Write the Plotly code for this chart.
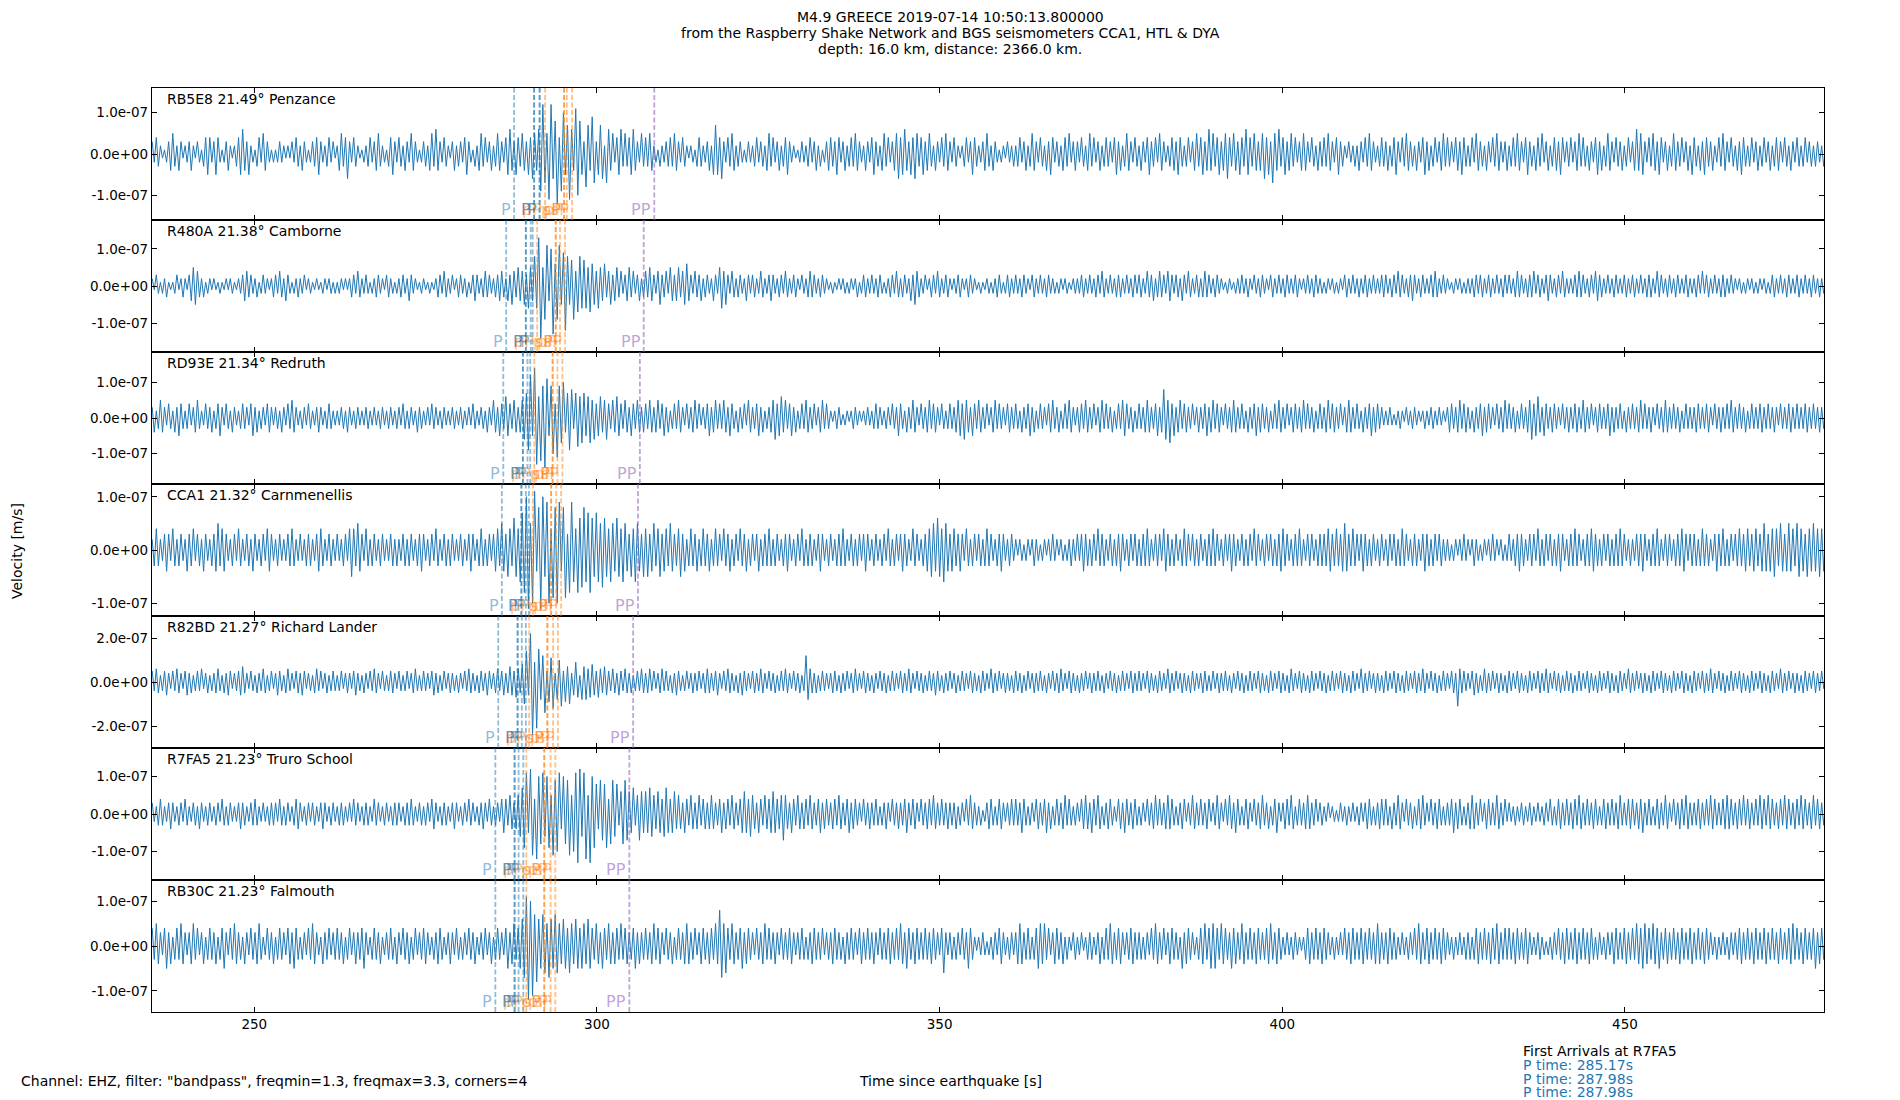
import numpy as np
import plotly.graph_objects as go
from plotly.subplots import make_subplots

# sample times: first sample and step (s since origin)
T0 = 235.1
DT = 0.3
X_RANGE = [235.07, 479.04]
X_TICKS = [250, 300, 350, 400, 450]

stations = ["RB5E8 21.49° Penzance", "R480A 21.38° Camborne", "RD93E 21.34° Redruth",
            "CCA1 21.32° Carnmenellis", "R82BD 21.27° Richard Lander", "R7FA5 21.23° Truro School",
            "RB30C 21.23° Falmouth"]

# y limits in 1e-7 m/s, ticks in 1e-7 m/s
y_limits = [1.60, 1.78, 1.85, 1.24, 3.0, 1.76, 1.47]
y_ticks = [[-1, 0, 1], [-1, 0, 1], [-1, 0, 1], [-1, 0, 1], [-2, 0, 2], [-1, 0, 1], [-1, 0, 1]]

# EHZ velocity, units of 1e-8 m/s, one row = 9 s
rb5e8 = [
    3,-2,4,-3,2,-1,1,-2,3,-4, 5,-3,2,-4,3,-1,2,-2,3,-4, 2,-1,3,-2,1,-3,4,-5,4,-2,
    3,-5,4,-2,1,-2,3,-4,2,-1, 2,-3,4,-5,6,-4,3,-5,2,-2, 1,-3,4,-2,5,-4,3,-2,1,-2,
    1,-2,3,-2,2,-1,2,-1,3,-2, 4,-3,2,-4,3,-2,1,-2,3,-3, 4,-5,3,-2,2,-3,4,-2,3,-1,
    2,-4,5,-3,4,-6,3,-2,4,-3, 2,-1,1,-2,2,-3,4,-2,3,-4, 5,-3,2,-2,1,-3,4,-5,3,-2,
    4,-3,2,-4,3,-2,5,-4,3,-2, 1,-2,3,-3,2,-4,5,-3,6,-4, 3,-2,4,-3,2,-1,3,-4,2,-3,
    3,-2,4,-5,3,-2,1,-3,2,-4, 5,-3,4,-2,3,-4,2,-3,5,-4, 3,-2,4,-5,6,-4,3,-5,4,-3,
    5,-4,3,-5,4,-6,5,-4,6,-9, 12,-7,5,-11,12,-6,8,-12,4,-9, 10,-5,7,-11,6,-4,11,-10,8,-5,
    3,-8,7,-4,9,-7,3,-5,7,-6, 2,-7,6,-4,5,-2,4,-5,6,-3, 5,-3,4,-5,6,-4,3,-2,5,-3,
    4,-3,5,-4,2,-2,1,-3,2,-2, 3,-3,4,-3,5,-4,3,-2,4,-3, 2,-1,2,-2,1,-3,4,-3,2,-2,
    3,-4,2,-5,7,-5,4,-6,3,-2, 4,-3,5,-4,2,-3,3,-2,1,-2, 3,-2,2,-3,4,-2,3,-3,2,-4,
    5,-3,4,-2,3,-4,2,-3,4,-5, 3,-2,2,-1,1,-2,3,-2,2,-3, 4,-2,3,-4,2,-3,1,-2,3,-4,
    4,-3,3,-5,4,-2,3,-4,2,-3, 4,-3,5,-4,3,-2,2,-4,3,-2, 4,-5,3,-3,2,-4,5,-3,4,-2,
    3,-4,5,-6,4,-5,6,-4,3,-5, 4,-6,5,-3,4,-5,3,-4,5,-3, 2,-4,3,-2,4,-3,5,-4,3,-2,
    4,-3,2,-1,2,-3,4,-2,3,-5, 4,-3,2,-2,3,-4,5,-3,2,-4, 3,-2,1,-2,2,-1,3,-2,2,-3,
    2,-3,4,-2,3,-4,2,-3,5,-4, 3,-2,4,-3,2,-4,3,-5,4,-2, 3,-3,2,-4,4,-3,5,-2,3,-4,
    3,-2,4,-3,2,-4,5,-3,4,-2, 3,-4,2,-3,4,-3,3,-2,4,-5, 3,-4,2,-3,5,-4,3,-2,4,-3,
    2,-4,3,-2,4,-5,3,-3,4,-2, 5,-4,3,-2,2,-3,4,-4,3,-5, 4,-3,2,-3,4,-2,3,-4,5,-3,
    4,-5,3,-4,6,-4,5,-3,4,-5, 3,-4,5,-6,4,-3,5,-4,3,-5, 4,-3,6,-5,4,-3,5,-4,3,-4,
    5,-6,4,-5,3,-7,5,-4,6,-3, 4,-5,3,-4,5,-3,4,-2,3,-4, 5,-4,3,-2,4,-3,2,-4,3,-3,
    4,-3,5,-4,3,-2,4,-5,3,-3, 2,-1,3,-2,2,-3,2,-4,3,-2, 4,-3,5,-4,3,-2,2,-3,4,-3,
    3,-4,2,-3,4,-5,3,-2,4,-3, 5,-4,3,-3,2,-4,3,-2,4,-5, 3,-4,2,-3,4,-2,3,-4,5,-3,
    4,-3,3,-2,4,-4,3,-5,4,-3, 2,-3,4,-2,5,-4,3,-3,2,-4, 3,-2,4,-3,5,-4,3,-2,3,-4,
    2,-3,4,-3,5,-4,3,-2,4,-5, 3,-3,2,-4,4,-3,5,-2,3,-4, 2,-3,4,-4,3,-5,4,-2,3,-3,
    4,-2,3,-4,5,-3,4,-3,2,-4, 3,-2,4,-5,3,-4,2,-3,5,-4, 3,-2,4,-3,3,-4,2,-3,4,-2,
    3,-4,6,-4,5,-5,3,-2,4,-3, 5,-4,3,-5,4,-2,3,-4,2,-3, 5,-4,3,-3,4,-2,3,-4,2,-5,
    4,-3,2,-4,3,-5,4,-3,3,-4, 2,-2,4,-3,5,-4,3,-2,4,-3, 2,-4,3,-5,4,-3,2,-3,4,-2,
    3,-4,2,-3,4,-2,3,-4,2,-3, 4,-4,3,-2,4,-3,2,-4,3,-2, 4,-3,2,-3,4,-2,3,-3,2,-3,
    3,-2,2,-3,2,
]

r480a = [
    2,-1,3,-2,1,-2,2,-3,1,-1, 1,-2,3,-1,2,-3,2,-1,3,-4, 5,-5,4,-3,2,-3,1,-2,2,-1,
    2,-1,1,-2,1,-1,2,-1,2,-2, 1,-1,2,-2,3,-4,4,-3,3,-2, 2,-3,1,-2,3,-2,2,-1,2,-3,
    3,-2,4,-3,2,-4,3,-2,1,-2, 2,-3,2,-2,3,-1,2,-2,1,-1, 2,-1,1,-2,2,-1,2,-2,1,-2,
    1,-2,2,-1,2,-1,2,-3,3,-2, 4,-3,2,-2,3,-2,1,-2,2,-3, 3,-2,2,-1,3,-3,2,-2,1,-2,
    2,-3,3,-2,2,-4,3,-2,2,-1, 1,-2,2,-1,1,-2,1,-1,2,-3, 3,-2,4,-3,2,-2,3,-1,2,-3,
    3,-2,2,-3,1,-2,3,-4,3,-2, 2,-3,4,-3,3,-2,2,-3,3,-4, 4,-3,2,-4,3,-5,4,-3,5,-4,
    4,-5,3,-6,5,-4,8,-6,13,-14, 5,-9,11,-4,10,-13,6,-9,11,-5, 9,-12,8,-5,7,-9,4,-7,8,-6,
    7,-6,5,-7,6,-5,4,-6,5,-4, 6,-3,4,-5,3,-4,5,-3,4,-2, 3,-4,5,-3,4,-2,3,-4,2,-3,
    4,-3,5,-4,3,-2,4,-5,3,-3, 4,-2,5,-4,3,-4,5,-3,4,-5, 6,-4,3,-2,4,-3,3,-4,2,-3,
    3,-2,2,-4,3,-2,5,-6,4,-5, 3,-2,4,-3,2,-3,3,-2,2,-4, 3,-2,3,-3,2,-2,4,-3,2,-2,
    3,-4,3,-2,2,-3,3,-2,4,-3, 2,-2,3,-3,2,-1,3,-2,2,-3, 4,-3,3,-2,2,-3,3,-2,2,-1,
    1,-2,1,-1,2,-1,2,-2,1,-2, 2,-1,2,-3,1,-2,3,-3,2,-2, 3,-2,2,-3,3,-2,1,-2,2,-3,
    3,-2,4,-3,2,-3,3,-2,2,-4, 3,-5,4,-3,2,-2,3,-1,2,-3, 3,-2,4,-3,2,-2,3,-3,2,-1,
    2,-2,3,-3,2,-1,2,-3,3,-2, 2,-1,1,-2,1,-1,2,-2,1,-2, 2,-3,3,-2,1,-2,3,-3,2,-2,
    3,-2,2,-3,3,-2,2,-1,3,-3, 2,-2,3,-2,2,-3,3,-2,2,-2, 1,-2,2,-1,2,-2,1,-1,2,-2,
    2,-2,3,-3,2,-2,3,-2,2,-3, 3,-2,4,-3,2,-2,3,-2,2,-3, 3,-3,2,-2,3,-2,2,-3,3,-2,
    3,-3,2,-2,4,-3,3,-4,2,-3, 4,-3,3,-2,4,-4,3,-2,3,-3, 2,-4,3,-2,4,-3,2,-2,3,-3,
    2,-3,4,-3,3,-2,2,-3,3,-2, 2,-1,1,-2,2,-1,1,-2,2,-2, 3,-2,2,-3,2,-1,3,-2,2,-3,
    3,-2,2,-1,3,-3,2,-2,3,-2, 2,-3,3,-2,2,-2,3,-3,2,-1, 2,-2,3,-2,2,-3,3,-2,2,-2,
    1,-2,2,-1,2,-2,1,-2,2,-1, 3,-3,2,-2,3,-2,2,-3,2,-2, 3,-3,2,-2,3,-2,2,-2,3,-3,
    3,-2,2,-3,3,-2,4,-3,3,-2, 2,-3,3,-4,3,-2,2,-3,3,-2, 2,-2,3,-3,4,-3,2,-2,3,-2,
    2,-1,1,-2,2,-1,2,-2,1,-2, 2,-2,2,-3,3,-2,3,-3,2,-2, 3,-3,2,-2,3,-2,2,-3,3,-2,
    3,-2,2,-3,4,-3,3,-2,2,-3, 3,-3,4,-2,3,-3,2,-2,3,-4, 3,-2,2,-3,3,-2,4,-3,2,-2,
    2,-2,3,-3,4,-3,3,-2,2,-3, 3,-2,4,-4,3,-3,2,-2,3,-2, 2,-3,3,-2,2,-2,3,-3,2,-2,
    3,-3,2,-2,3,-2,2,-3,3,-3, 2,-2,4,-3,3,-2,2,-3,3,-2, 2,-3,3,-2,2,-2,3,-3,2,-2,
    2,-3,3,-2,4,-2,3,-3,2,-2, 3,-2,2,-3,3,-3,2,-2,3,-2, 2,-1,2,-2,1,-2,2,-1,2,-2,
    1,-2,2,-1,2,-2,1,-2,3,-3, 2,-2,3,-2,2,-3,3,-2,2,-2, 3,-3,2,-2,3,-2,2,-3,3,-2,
    2,-3,2,-2,3,
]

rd93e = [
    3,-4,2,-3,5,-4,3,-2,4,-3, 2,-4,3,-5,4,-3,2,-3,4,-2, 3,-4,5,-3,2,-2,4,-3,3,-4,
    2,-3,4,-5,3,-2,4,-3,2,-4, 3,-2,2,-3,4,-3,3,-2,4,-5, 3,-4,2,-3,3,-2,4,-4,3,-2,
    3,-3,2,-4,3,-2,4,-3,5,-4, 3,-2,2,-3,3,-2,4,-3,2,-2, 3,-4,3,-2,2,-3,4,-3,2,-2,
    2,-2,3,-3,2,-4,3,-2,2,-3, 3,-2,2,-2,3,-3,2,-2,3,-2, 2,-3,3,-2,2,-3,3,-2,2,-3,
    3,-2,4,-3,2,-3,3,-2,2,-4, 3,-3,2,-2,3,-2,4,-3,3,-2, 2,-3,3,-2,2,-2,3,-3,2,-2,
    3,-3,2,-2,3,-2,4,-3,2,-2, 3,-3,2,-4,3,-2,5,-4,3,-5, 4,-3,6,-5,4,-3,5,-4,3,-4,
    5,-6,7,-9,12,-5,14,-13,6,-12, 9,-14,11,-5,9,-10,4,-11,9,-7, 10,-4,7,-9,8,-3,7,-8,6,-7,
    7,-5,6,-7,5,-6,4,-5,6,-4, 5,-6,4,-3,5,-4,6,-5,4,-3, 5,-4,3,-5,4,-3,5,-4,3,-4,
    4,-3,5,-4,3,-4,5,-3,4,-5, 3,-4,2,-3,4,-3,5,-4,3,-2, 4,-3,3,-4,5,-3,4,-2,3,-3,
    4,-5,3,-4,5,-3,4,-3,5,-4, 3,-5,4,-3,2,-4,3,-3,4,-2, 5,-4,3,-3,4,-5,3,-4,2,-3,
    3,-4,5,-6,4,-5,6,-4,5,-3, 4,-5,3,-4,2,-3,4,-3,5,-4, 3,-3,4,-2,3,-4,5,-3,4,-3,
    2,-1,2,-3,3,-2,1,-2,2,-1, 2,-3,3,-2,2,-1,2,-2,3,-2, 2,-3,4,-3,3,-2,2,-3,3,-2,
    4,-3,3,-5,4,-3,2,-4,3,-3, 5,-4,3,-2,4,-3,3,-4,5,-3, 4,-4,3,-2,4,-3,2,-3,4,-3,
    3,-4,5,-5,4,-6,5,-4,3,-5, 4,-3,5,-4,3,-3,4,-2,3,-4, 5,-3,4,-3,3,-2,4,-4,3,-3,
    4,-3,2,-4,3,-3,4,-5,3,-4, 2,-3,4,-3,3,-2,4,-4,5,-3, 3,-4,2,-3,4,-3,5,-4,3,-2,
    3,-4,4,-3,5,-4,3,-3,4,-2, 3,-4,5,-3,4,-3,3,-4,2,-3, 4,-3,5,-5,4,-3,3,-4,2,-3,
    4,-3,3,-4,5,-4,3,-3,4,-5, 3,-4,8,-6,5,-7,4,-5,3,-4, 5,-3,4,-4,3,-3,4,-2,3,-4,
    3,-3,4,-5,3,-4,5,-3,4,-4, 3,-2,4,-3,3,-4,5,-4,3,-3, 4,-3,2,-4,3,-3,4,-5,3,-4,
    4,-3,3,-4,2,-3,4,-3,5,-4, 3,-3,4,-2,3,-4,4,-3,3,-4, 5,-3,4,-3,3,-4,2,-3,4,-3,
    3,-4,5,-3,4,-4,3,-3,4,-2, 3,-4,5,-4,3,-3,4,-3,2,-4, 3,-3,4,-5,3,-4,4,-3,3,-2,
    2,-2,3,-2,1,-2,2,-3,2,-1, 3,-2,2,-3,3,-2,2,-1,2,-3, 2,-2,3,-3,2,-2,3,-2,2,-1,
    3,-4,4,-3,3,-4,5,-3,4,-4, 3,-3,2,-4,3,-3,4,-5,3,-4, 4,-3,3,-2,4,-3,3,-4,5,-3,
    4,-3,3,-4,2,-3,4,-3,3,-4, 5,-6,4,-5,6,-4,3,-5,4,-3, 3,-4,4,-3,3,-2,4,-3,3,-4,
    3,-3,4,-4,3,-3,5,-4,3,-3, 4,-2,3,-4,4,-3,3,-3,4,-5, 3,-4,3,-3,4,-3,2,-4,3,-3,
    4,-3,3,-4,5,-3,4,-3,3,-4, 3,-2,4,-3,3,-4,5,-4,3,-3, 4,-3,3,-4,2,-3,4,-3,3,-3,
    3,-4,4,-3,3,-3,4,-4,3,-2, 4,-3,3,-4,3,-3,4,-3,5,-4, 3,-3,4,-3,3,-4,2,-3,4,-3,
    3,-3,4,-4,3,-3,4,-3,3,-4, 3,-2,4,-3,3,-3,4,-4,3,-3, 4,-3,3,-3,4,-4,3,-3,4,-3,
    3,-4,3,-3,4,
]

cca1 = [
    2,-3,4,-3,2,-2,3,-4,3,-2, 4,-3,2,-3,3,-2,2,-4,3,-3, 4,-2,3,-3,2,-4,3,-2,2,-3,
    3,-4,5,-3,4,-4,3,-2,2,-3, 3,-2,4,-3,2,-2,3,-3,2,-4, 3,-2,2,-3,3,-2,4,-4,3,-2,
    2,-3,3,-2,2,-2,3,-3,4,-3, 2,-2,3,-2,2,-3,3,-3,2,-2, 3,-4,4,-3,2,-2,3,-3,2,-2,
    3,-2,2,-3,3,-2,4,-5,4,-3, 5,-4,3,-2,4,-3,2,-3,3,-2, 2,-3,3,-2,2,-2,3,-3,2,-3,
    2,-2,3,-3,2,-3,3,-2,2,-3, 3,-4,3,-2,2,-3,3,-2,4,-3, 2,-2,3,-3,2,-3,3,-2,2,-2,
    3,-3,2,-2,3,-4,3,-2,2,-3, 4,-3,2,-3,3,-2,3,-4,4,-3, 5,-4,3,-5,4,-3,6,-5,4,-6,
    7,-8,10,-11,5,-10,11,-4,8,-11, 10,-5,9,-10,4,-9,8,-10,9,-4, 8,-9,3,-8,9,-6,4,-8,6,-7,
    8,-6,7,-8,6,-5,7,-6,5,-7, 6,-5,4,-6,5,-4,6,-5,4,-6, 5,-4,3,-5,4,-6,5,-4,3,-5,
    4,-5,3,-4,5,-3,4,-5,3,-4, 4,-3,5,-4,3,-3,4,-5,3,-4, 2,-3,4,-3,3,-4,2,-3,4,-3,
    3,-4,2,-3,4,-3,3,-2,4,-3, 3,-4,2,-3,3,-2,4,-3,3,-4, 2,-3,3,-2,3,-4,2,-3,3,-3,
    4,-3,2,-3,3,-2,2,-3,3,-4, 3,-2,2,-3,3,-2,4,-3,2,-3, 3,-3,2,-2,3,-4,3,-2,2,-3,
    3,-2,2,-3,3,-3,4,-3,2,-2, 3,-3,2,-3,3,-2,3,-4,3,-2, 2,-3,3,-2,2,-3,3,-2,4,-3,
    2,-3,3,-2,3,-4,3,-3,2,-2, 4,-3,3,-2,2,-3,3,-4,4,-5, 5,-4,6,-5,4,-6,5,-4,3,-4,
    4,-3,3,-4,3,-2,4,-3,2,-3, 3,-2,3,-3,2,-3,4,-3,3,-2, 2,-3,3,-4,3,-2,2,-3,3,-2,
    2,-1,2,-2,1,-2,2,-1,2,-3, 2,-2,1,-2,2,-1,2,-2,3,-2, 2,-1,2,-2,1,-2,2,-3,2,-2,
    3,-2,3,-4,3,-3,2,-3,3,-2, 4,-3,3,-3,2,-2,3,-3,2,-3, 3,-4,3,-2,2,-3,3,-2,3,-3,
    2,-3,3,-3,4,-3,2,-2,3,-3, 3,-2,4,-4,3,-3,2,-3,3,-2, 2,-3,4,-3,3,-2,3,-3,2,-3,
    3,-2,2,-3,3,-3,4,-3,3,-2, 2,-3,3,-2,3,-4,3,-3,2,-2, 3,-3,2,-3,3,-2,4,-3,3,-2,
    2,-3,3,-2,3,-3,2,-3,3,-4, 4,-3,3,-2,2,-3,3,-3,4,-3, 2,-2,3,-3,3,-2,2,-3,3,-3,
    3,-3,4,-4,3,-3,4,-3,3,-4, 5,-4,3,-3,4,-3,3,-2,3,-4, 3,-3,2,-3,3,-2,2,-3,3,-2,
    2,-3,3,-2,3,-3,2,-3,4,-3, 3,-2,2,-3,3,-3,2,-2,3,-4, 3,-3,2,-3,3,-2,3,-3,2,-2,
    2,-2,1,-2,2,-1,2,-2,3,-2, 2,-1,2,-3,2,-2,1,-2,2,-1, 2,-2,3,-2,2,-1,2,-2,1,-2,
    3,-2,2,-3,3,-4,3,-3,2,-2, 3,-3,3,-2,4,-3,2,-3,3,-2, 3,-3,2,-3,3,-4,3,-2,2,-3,
    3,-3,4,-3,3,-2,2,-3,3,-3, 4,-4,3,-3,2,-3,3,-2,3,-3, 2,-3,3,-3,4,-3,3,-2,2,-3,
    2,-2,3,-3,3,-4,3,-2,2,-3, 3,-3,4,-3,2,-2,3,-3,3,-2, 2,-3,3,-3,4,-4,3,-2,3,-3,
    3,-3,2,-3,4,-3,3,-3,2,-2, 3,-4,3,-3,4,-3,2,-3,3,-2, 3,-3,4,-3,3,-4,4,-3,3,-4,
    4,-3,3,-4,5,-4,3,-4,4,-5, 4,-3,5,-4,3,-4,5,-4,4,-3, 5,-5,4,-4,3,-5,4,-4,5,-4,
    4,-5,4,-4,6,
]

r82bd = [
    5,-4,6,-5,3,-4,5,-6,4,-3, 5,-4,6,-5,4,-3,5,-6,4,-5, 3,-4,5,-4,6,-3,4,-5,3,-4,
    4,-5,6,-4,3,-5,4,-6,5,-3, 4,-4,5,-6,7,-5,4,-3,5,-4, 3,-5,4,-4,6,-5,3,-4,5,-3,
    4,-6,5,-4,3,-5,6,-4,4,-3, 5,-5,4,-6,5,-3,4,-4,3,-5, 6,-4,5,-3,4,-5,3,-4,5,-4,
    3,-4,5,-3,4,-5,4,-3,5,-6, 4,-4,3,-5,4,-3,5,-4,6,-5, 4,-3,5,-4,3,-4,5,-5,4,-3,
    5,-4,3,-4,5,-3,4,-5,6,-4, 3,-4,5,-4,4,-3,5,-6,4,-5, 3,-4,5,-3,4,-5,4,-4,3,-5,
    4,-3,5,-4,6,-5,4,-4,3,-5, 5,-4,4,-6,5,-3,4,-5,6,-4, 5,-6,4,-5,7,-6,5,-7,6,-5,
    8,-10,14,-6,22,-24,9,-21,15,-8, 12,-14,5,-9,11,-12,4,-8,10,-11, 5,-9,7,-10,4,-6,9,-7,3,-8,
    7,-8,6,-7,8,-6,5,-7,6,-5, 7,-6,5,-4,6,-5,4,-6,5,-4, 6,-5,4,-5,3,-4,5,-4,6,-5,
    4,-5,6,-4,5,-3,4,-5,6,-4, 5,-4,3,-5,4,-6,5,-4,3,-4, 5,-3,4,-5,4,-4,5,-3,4,-5,
    6,-5,4,-4,5,-6,4,-3,5,-4, 6,-5,4,-4,3,-5,4,-6,5,-4, 4,-3,5,-5,4,-4,6,-5,4,-3,
    5,-4,4,-5,3,-4,5,-4,6,-5, 4,-3,5,-4,4,-5,3,-4,12,-8, 6,-5,4,-5,3,-4,5,-4,4,-3,
    4,-5,5,-4,3,-5,4,-4,5,-3, 4,-5,6,-4,4,-3,5,-5,4,-4, 3,-5,4,-3,5,-4,4,-5,3,-4,
    5,-4,4,-3,5,-5,4,-4,6,-5, 4,-3,5,-4,4,-5,3,-4,5,-4, 4,-6,5,-4,3,-5,4,-4,5,-3,
    4,-5,3,-4,5,-4,4,-3,5,-5, 4,-4,3,-5,5,-4,4,-3,6,-5, 4,-4,5,-3,4,-5,4,-4,3,-5,
    5,-4,4,-5,3,-4,5,-3,4,-5, 4,-4,5,-4,3,-5,4,-3,5,-4, 4,-5,6,-4,4,-3,5,-5,4,-4,
    3,-5,4,-4,5,-3,4,-5,4,-4, 5,-4,3,-5,4,-3,5,-4,4,-5, 3,-4,5,-4,4,-3,5,-5,4,-4,
    5,-4,4,-3,5,-5,4,-4,3,-5, 5,-4,4,-3,6,-5,4,-4,5,-3, 4,-5,4,-4,3,-5,5,-4,4,-3,
    4,-5,5,-4,3,-4,5,-3,4,-5, 4,-4,5,-4,3,-5,4,-3,5,-4, 4,-5,3,-4,5,-4,4,-3,5,-5,
    4,-4,3,-5,5,-4,4,-3,5,-5, 4,-4,3,-5,6,-4,4,-3,5,-5, 4,-4,3,-5,5,-4,4,-3,5,-4,
    4,-5,3,-4,5,-4,4,-3,5,-5, 4,-4,3,-5,5,-4,4,-3,6,-5, 4,-4,5,-3,4,-5,4,-4,3,-5,
    5,-4,4,-3,5,-5,4,-4,3,-5, 5,-4,4,-3,5,-5,4,-4,6,-5, 4,-3,5,-4,4,-5,3,-4,5,-4,
    4,-3,5,-5,4,-11,6,-5,5,-4, 4,-3,5,-6,4,-5,3,-4,6,-5, 4,-4,5,-3,4,-5,4,-4,3,-5,
    5,-4,4,-3,5,-5,4,-4,3,-5, 5,-4,4,-3,5,-5,4,-4,6,-5, 4,-3,5,-4,4,-5,3,-4,5,-4,
    4,-5,3,-4,5,-4,4,-3,5,-5, 4,-4,3,-5,5,-4,4,-3,5,-5, 4,-4,3,-5,5,-4,4,-3,6,-5,
    4,-4,5,-3,4,-5,4,-4,3,-5, 5,-4,4,-3,5,-5,4,-4,3,-5, 5,-4,4,-3,5,-5,4,-4,3,-5,
    5,-4,4,-3,5,-5,4,-4,6,-5, 4,-3,5,-4,4,-5,3,-4,5,-4, 4,-3,5,-5,4,-4,3,-5,5,-4,
    4,-3,5,-5,4,-4,3,-5,5,-4, 4,-3,6,-5,4,-4,5,-3,4,-5, 4,-4,3,-5,5,-4,4,-3,5,-5,
    4,-4,5,-3,6,
]

r7fa5 = [
    3,-2,2,-3,4,-3,2,-2,3,-4, 3,-2,2,-3,3,-2,4,-3,2,-2, 3,-3,2,-4,3,-2,2,-3,3,-2,
    2,-3,3,-2,4,-3,2,-3,3,-2, 2,-2,3,-4,3,-3,2,-2,3,-3, 4,-3,2,-2,3,-2,2,-3,3,-3,
    3,-2,4,-3,2,-3,3,-2,2,-3, 4,-4,3,-2,2,-3,3,-2,3,-3, 2,-2,3,-4,3,-2,2,-3,3,-2,
    2,-3,3,-3,2,-2,3,-2,4,-3, 3,-2,2,-3,3,-3,2,-2,4,-3, 3,-2,2,-3,3,-2,2,-3,3,-3,
    3,-2,2,-3,3,-3,4,-3,2,-2, 3,-3,2,-3,3,-2,4,-4,3,-2, 2,-3,3,-3,2,-2,3,-4,3,-2,
    2,-3,3,-2,4,-3,3,-2,2,-3, 3,-4,3,-2,4,-3,2,-3,3,-2, 4,-5,4,-3,5,-4,3,-4,5,-6,
    7,-9,11,-5,12,-11,4,-12,10,-8, 11,-6,10,-9,5,-11,9,-10,11,-4, 10,-8,9,-11,5,-10,11,-13,12,-6,
    11,-12,5,-13,10,-9,8,-4,9,-7, 8,-9,4,-8,9,-6,8,-3,6,-8, 9,-7,6,-5,7,-3,5,-7,6,-5,
    6,-5,7,-6,5,-4,6,-5,4,-6, 7,-5,4,-5,6,-4,5,-4,3,-5, 4,-3,5,-4,3,-4,5,-3,4,-4,
    3,-4,5,-4,3,-3,4,-5,3,-4, 4,-3,5,-4,3,-3,4,-5,6,-5, 4,-6,5,-4,3,-5,4,-3,5,-4,
    4,-5,6,-5,4,-4,5,-7,5,-4, 3,-5,4,-3,5,-4,3,-4,4,-3, 5,-4,3,-3,4,-5,3,-4,4,-3,
    3,-4,4,-3,5,-4,3,-3,4,-5, 3,-4,4,-3,3,-2,4,-3,3,-4, 3,-3,4,-3,2,-3,3,-4,3,-2,
    4,-3,3,-4,3,-3,4,-5,3,-3, 4,-4,3,-2,4,-3,3,-4,4,-3, 5,-4,3,-3,4,-3,3,-4,3,-3,
    3,-4,2,-3,3,-2,4,-3,5,-4, 3,-3,2,-3,1,-2,3,-4,4,-3, 2,-3,4,-4,3,-2,3,-3,4,-3,
    4,-3,3,-5,4,-3,2,-3,3,-2, 4,-4,3,-3,4,-5,3,-4,2,-3, 4,-3,3,-4,5,-3,4,-3,2,-3,
    3,-2,4,-4,5,-4,3,-5,4,-3, 5,-4,2,-3,3,-4,4,-3,2,-2, 4,-4,3,-5,4,-3,3,-4,4,-3,
    2,-3,3,-2,4,-3,3,-4,5,-3, 4,-3,3,-4,5,-4,4,-3,2,-3, 3,-4,4,-2,3,-3,5,-4,3,-3,
    4,-3,3,-4,4,-2,3,-3,5,-4, 3,-2,4,-3,5,-4,3,-5,4,-3, 2,-3,4,-4,3,-2,4,-3,3,-4,
    5,-3,3,-4,2,-3,4,-5,3,-2, 3,-4,4,-3,5,-4,2,-3,4,-3, 3,-4,5,-4,3,-3,4,-2,3,-3,
    2,-2,3,-1,2,-2,1,-2,3,-2, 2,-3,2,-2,3,-2,2,-3,3,-2, 3,-4,4,-3,2,-3,3,-4,4,-3,
    4,-3,2,-4,3,-3,5,-4,3,-2, 4,-3,3,-4,2,-3,4,-4,5,-3, 3,-2,4,-3,3,-4,4,-3,2,-3,
    3,-3,4,-5,3,-4,4,-3,2,-3, 3,-4,5,-4,3,-3,4,-2,3,-4, 4,-3,3,-3,5,-4,3,-3,4,-2,
    3,-2,2,-3,2,-2,3,-3,2,-2, 3,-3,2,-2,3,-2,2,-3,3,-2, 4,-3,2,-3,4,-4,3,-3,4,-3,
    3,-4,4,-3,5,-4,3,-3,4,-3, 3,-4,4,-3,2,-3,4,-4,3,-3, 4,-3,3,-4,5,-3,3,-3,4,-4,
    4,-3,3,-4,4,-5,3,-3,4,-3, 2,-3,4,-4,3,-3,5,-4,3,-2, 4,-3,3,-4,4,-3,5,-4,3,-3,
    3,-3,4,-4,3,-3,4,-3,5,-4, 4,-3,3,-3,4,-4,5,-4,4,-3, 3,-4,4,-3,5,-3,4,-4,3,-3,
    4,-3,5,-4,4,-3,5,-4,4,-3, 3,-4,4,-3,5,-4,4,-3,3,-4, 4,-3,5,-4,4,-3,3,-4,5,-3,
    4,-4,3,-3,5,
]

rb30c = [
    4,-3,5,-4,3,-2,4,-5,3,-4, 2,-3,4,-3,5,-4,3,-2,3,-4, 5,-3,4,-2,3,-4,2,-3,4,-3,
    3,-4,2,-3,4,-5,3,-2,4,-3, 5,-4,3,-3,2,-4,3,-2,4,-3, 3,-4,5,-3,2,-2,4,-3,3,-4,
    2,-3,4,-3,3,-2,4,-4,3,-5, 4,-3,2,-3,3,-2,4,-3,5,-4, 3,-2,2,-4,3,-3,4,-2,3,-3,
    4,-3,3,-4,2,-3,4,-2,3,-4, 3,-3,4,-5,3,-2,2,-3,4,-3, 3,-4,2,-2,3,-3,4,-3,2,-4,
    3,-2,4,-3,3,-4,2,-3,4,-2, 3,-3,4,-4,3,-2,2,-3,3,-4, 4,-3,2,-2,3,-4,3,-2,4,-3,
    2,-3,3,-2,4,-3,3,-4,2,-2, 3,-3,4,-2,3,-4,2,-3,4,-3, 3,-2,4,-5,3,-4,5,-3,4,-5,
    6,-7,11,-12,10,-11,7,-8,6,-5, 7,-6,5,-7,6,-5,7,-6,5,-4, 6,-5,4,-6,5,-4,6,-5,4,-5,
    5,-4,6,-5,4,-3,5,-4,3,-5, 4,-3,5,-4,3,-4,4,-3,5,-3, 4,-4,3,-3,4,-5,3,-4,3,-3,
    4,-3,3,-4,5,-3,4,-4,3,-2, 4,-3,3,-4,2,-3,4,-3,3,-4, 5,-4,3,-3,4,-2,3,-4,4,-3,
    3,-4,4,-3,5,-4,8,-7,5,-6, 4,-3,5,-4,3,-3,4,-5,3,-4, 4,-3,3,-2,4,-3,3,-4,5,-3,
    4,-3,3,-4,3,-2,4,-3,3,-3, 4,-4,3,-2,3,-3,4,-3,2,-3, 3,-4,4,-3,3,-3,4,-2,3,-3,
    3,-4,4,-3,3,-3,2,-4,3,-3, 4,-3,3,-2,4,-4,3,-3,4,-3, 3,-4,3,-2,4,-3,3,-3,4,-4,
    3,-3,4,-3,5,-4,3,-5,4,-3, 3,-4,4,-3,3,-3,4,-3,3,-4, 4,-3,3,-2,4,-6,3,-2,3,-3,
    2,-3,3,-2,4,-3,3,-5,4,-3, 2,-1,2,-2,3,-2,1,-2,2,-3, 3,-2,4,-4,3,-2,2,-3,3,-2,
    3,-4,5,-4,3,-3,4,-3,2,-3, 4,-5,5,-4,5,-3,4,-2,3,-4, 4,-3,3,-4,2,-3,2,-1,3,-3,
    2,-2,3,-1,2,-3,3,-3,2,-2, 3,-4,2,-3,4,-3,5,-4,3,-3, 4,-4,3,-2,3,-3,4,-4,3,-3,
    3,-3,2,-3,3,-2,4,-3,5,-4, 3,-3,4,-2,3,-4,4,-3,3,-3, 2,-5,3,-4,4,-3,3,-2,2,-3,
    4,-4,5,-3,4,-5,5,-5,4,-3, 5,-4,4,-3,3,-5,4,-4,3,-3, 5,-4,3,-3,4,-3,3,-4,4,-3,
    3,-3,4,-4,5,-3,3,-4,4,-3, 2,-2,3,-2,2,-3,3,-2,2,-1, 2,-3,4,-4,3,-3,4,-3,3,-4,
    4,-3,3,-2,2,-3,2,-2,3,-2, 4,-3,3,-4,4,-3,3,-3,4,-4, 3,-3,4,-3,3,-4,5,-4,3,-3,
    3,-4,4,-3,3,-3,2,-2,3,-2, 2,-3,3,-2,4,-3,5,-4,3,-3, 4,-4,3,-3,4,-3,3,-4,4,-3,
    3,-2,2,-3,2,-2,3,-2,2,-3, 3,-3,2,-3,4,-4,3,-3,4,-3, 3,-4,4,-3,5,-4,3,-3,4,-3,
    4,-3,3,-4,4,-3,3,-3,4,-4, 3,-2,2,-2,3,-3,2,-2,1,-2, 2,-3,3,-2,4,-3,3,-4,4,-3,
    3,-3,4,-4,3,-3,4,-3,3,-4, 4,-3,2,-3,3,-2,2,-3,3,-2, 3,-4,4,-3,3,-3,4,-4,3,-3,
    4,-3,5,-4,4,-5,5,-4,4,-3, 5,-4,4,-5,3,-3,4,-4,3,-3, 4,-3,3,-4,4,-3,3,-3,4,-4,
    3,-3,4,-3,3,-4,4,-3,3,-2, 2,-3,2,-2,3,-2,2,-3,3,-2, 3,-3,4,-4,3,-3,4,-3,3,-4,
    4,-3,3,-3,4,-4,3,-3,4,-3, 3,-4,4,-3,3,-3,4,-4,5,-3, 4,-3,3,-4,4,-3,3,-3,4,-5,
    3,-4,4,-3,5,
]

waves = [rb5e8, r480a, rd93e, cca1, r82bd, r7fa5, rb30c]

# predicted arrivals (s) for each station
phase_names = ["P", "P", "P", "P", "P", "pP", "pP", "sP", "pP", "sP", "PP"]
phase_times = [
    [287.91, 290.83, 290.83, 291.63, 291.63, 292.43, 295.20, 295.20, 295.60, 296.37, 308.36],
    [286.75, 289.62, 289.62, 290.33, 290.62, 291.27, 293.98, 293.98, 294.60, 295.33, 306.82],
    [286.33, 289.19, 289.19, 289.86, 290.26, 290.85, 293.53, 293.53, 294.23, 294.96, 306.26],
    [286.12, 288.97, 288.97, 289.62, 290.07, 290.64, 293.31, 293.31, 294.05, 294.77, 305.98],
    [285.59, 288.42, 288.42, 289.03, 289.62, 290.11, 292.76, 292.76, 293.59, 294.30, 305.28],
    [285.17, 287.98, 287.98, 288.56, 289.25, 289.69, 292.31, 292.31, 293.23, 293.92, 304.72],
    [285.17, 287.98, 287.98, 288.56, 289.25, 289.69, 292.31, 292.31, 293.23, 293.92, 304.72],
]
phase_colors = {"P": "rgba(31,119,180,0.5)", "pP": "rgba(255,127,14,0.5)",
                "sP": "rgba(255,127,14,0.5)", "PP": "rgba(148,103,189,0.6)"}

first_arrivals = [285.17, 287.98, 287.98]

title_lines = ["M4.9 GREECE 2019-07-14 10:50:13.800000",
               "from the Raspberry Shake Network and BGS seismometers CCA1, HTL & DYA",
               "depth: 16.0 km, distance: 2366.0 km."]

fig = make_subplots(rows=7, cols=1, shared_xaxes=True, vertical_spacing=0)

for i, vals in enumerate(waves):
    row = i + 1
    t = T0 + DT * np.arange(len(vals))
    fig.add_trace(go.Scatter(x=t, y=np.array(vals) * 1e-8, mode="lines",
                             line=dict(color="#1f77b4", width=1),
                             showlegend=False, hoverinfo="skip"), row=row, col=1)
    lim = y_limits[i] * 1e-7
    fig.update_yaxes(range=[-lim, lim], tickvals=[v * 1e-7 for v in y_ticks[i]],
                     ticktext=["%.1e" % (v * 1e-7) if v != 0 else "0.0e+00" for v in y_ticks[i]],
                     row=row, col=1)
    xa = "x" if row == 1 else "x%d" % row
    ya = "y" if row == 1 else "y%d" % row
    for name, pt in zip(phase_names, phase_times[i]):
        col = phase_colors[name]
        fig.add_shape(type="line", x0=pt, x1=pt, y0=0, y1=1, xref=xa, yref=ya + " domain",
                      line=dict(color=col, width=1.8, dash="5px,2.5px"))
        fig.add_annotation(x=pt, y=0, xref=xa, yref=ya + " domain", text=name,
                           xanchor="right", yanchor="bottom", showarrow=False,
                           borderpad=0, xshift=-2, font=dict(size=16, color=col))
    fig.add_annotation(x=0.008, y=1, xref=xa + " domain", yref=ya + " domain",
                       text=stations[i], xanchor="left", yanchor="top", showarrow=False,
                       yshift=-1, font=dict(size=14, color="black"))

fig.update_xaxes(range=X_RANGE, tickvals=X_TICKS, ticks="inside", ticklen=5, tickcolor="black",
                 showline=True, linecolor="black", linewidth=1.3, mirror="ticks",
                 showgrid=False, zeroline=False, tickfont=dict(size=13.5, color="black"))
fig.update_yaxes(ticks="inside", ticklen=5, tickcolor="black", showline=True, linecolor="black",
                 linewidth=1.3, mirror="ticks", showgrid=False, zeroline=False,
                 tickfont=dict(size=13.5, color="black"))

for k, line in enumerate(title_lines):
    fig.add_annotation(x=0.4773, y=1.0768 - 0.0173 * k, xref="paper", yref="paper", text=line,
                       showarrow=False, xanchor="center", yanchor="middle",
                       font=dict(size=14, color="black"))

fig.add_annotation(x=-0.0807, y=0.499, xref="paper", yref="paper", text="Velocity [m/s]",
                   textangle=-90, showarrow=False, xanchor="center",
                   font=dict(size=14, color="black"))
fig.add_annotation(x=0.4773, y=-0.086, xref="paper", yref="paper",
                   text="Time since earthquake [s]", showarrow=False, xanchor="center",
                   font=dict(size=14, color="black"))
fig.add_annotation(x=-0.0793, y=-0.086, xref="paper", yref="paper", xanchor="left",
                   text='Channel: EHZ, filter: "bandpass", freqmin=1.3, freqmax=3.3, corners=4',
                   showarrow=False, font=dict(size=14, color="black"))
fig.add_annotation(x=0.8188, y=-0.0527, xref="paper", yref="paper", xanchor="left",
                   text="First Arrivals at R7FA5", showarrow=False,
                   font=dict(size=14, color="black"))
for k, ft in enumerate(first_arrivals):
    fig.add_annotation(x=0.8188, y=-0.0678 - 0.015 * k, xref="paper", yref="paper",
                       xanchor="left", text="P time: %.2fs" % ft, showarrow=False,
                       font=dict(size=14, color="#1f77b4"))

# page has an 8px body margin, so pull the plot area up/left by that much
fig.update_layout(width=1900, height=1100, margin=dict(l=144, r=84, t=80, b=96),
                  plot_bgcolor="white", paper_bgcolor="white",
                  font=dict(family="DejaVu Sans", size=13, color="black"))

fig.write_html("out.html")
